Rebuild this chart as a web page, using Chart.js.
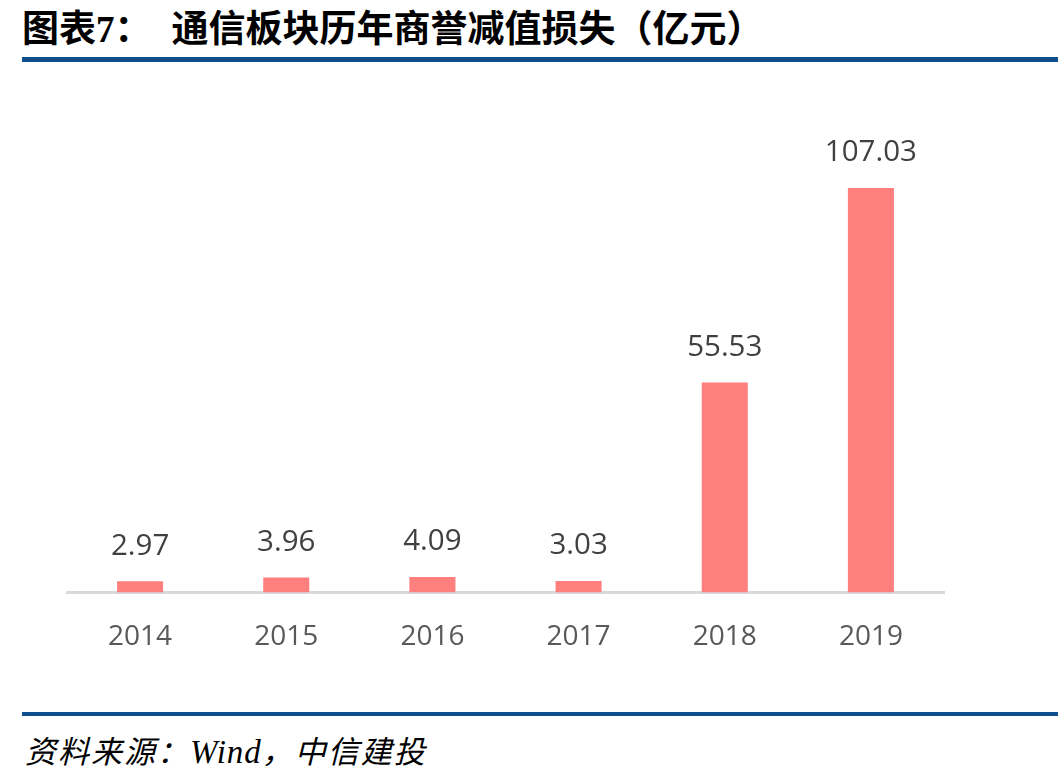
<!DOCTYPE html>
<html>
<head>
<meta charset="utf-8">
<script src="https://cdn.jsdelivr.net/npm/chart.js@4.4.1/dist/chart.umd.min.js"></script>
<style>
  html, body { margin: 0; padding: 0; background: #fff; }
  body { width: 1058px; height: 782px; position: relative; overflow: hidden; }
  #title { position: absolute; left: 22px; top: 2px; font-family: "Noto Sans CJK SC"; font-weight: bold; font-size: 37px; color: #000; white-space: nowrap; line-height: 48px; }
  #title .num { font-family: "Liberation Serif"; }
  #title .gap { display: inline-block; width: 20px; }
  .rule { position: absolute; left: 22px; right: 0; background: #0e4f8c; }
  #rule1 { top: 57px; height: 5px; }
  #rule2 { top: 712px; height: 4px; }
  #source { position: absolute; left: 25px; top: 729px; font-family: "Noto Sans CJK SC"; font-style: italic; font-size: 31px; letter-spacing: 2px; color: #000; line-height: 42px; white-space: nowrap; }
  #source .en { font-family: "Liberation Serif"; font-size: 33px; letter-spacing: 1px; }
  #wrap { position: absolute; left: 0; top: 70px; width: 1058px; height: 640px; }
</style>
</head>
<body>
<div id="title">图表<span class="num">7</span>：<span class="gap"></span>通信板块历年商誉减值损失（亿元）</div>
<div class="rule" id="rule1"></div>
<div id="wrap"><canvas id="goodwillChart"></canvas></div>
<div class="rule" id="rule2"></div>
<div id="source">资料来源：<span class="en">Wind</span>，中信建投</div>
<script>
// data
const years = ["2014", "2015", "2016", "2017", "2018", "2019"];
const impairment = [2.97, 3.96, 4.09, 3.03, 55.53, 107.03];

// value labels above each bar
const barLabels = {
  id: 'barLabels',
  afterDatasetsDraw(chart) {
    const ctx = chart.ctx;
    const meta = chart.getDatasetMeta(0);
    ctx.save();
    ctx.font = '29.5px "Open Sans"';
    ctx.fillStyle = '#404040';
    ctx.textAlign = 'center';
    ctx.textBaseline = 'middle';
    meta.data.forEach(function(bar, i) {
      ctx.fillText(impairment[i].toFixed(2), bar.x, bar.y - 35);
    });
    ctx.restore();
  }
};

const canvas = document.getElementById("goodwillChart");
let barChart = new Chart(canvas, {
  type: "bar",
  data: {
    labels: years,
    datasets: [{
      data: impairment,
      backgroundColor: '#ff7f7f',
      borderWidth: 0,
      categoryPercentage: 1,
      barPercentage: 0.315
    }]
  },
  options: {
    responsive: true,
    maintainAspectRatio: false,
    animation: false,
    layout: { padding: { left: 67, right: 114, top: 69, bottom: 28 } },
    plugins: {
      legend: { display: false },
      tooltip: { enabled: false }
    },
    scales: {
      x: {
        grid: { display: false, drawTicks: false },
        border: { display: true, color: '#d9d9d9', width: 3 },
        ticks: {
          color: '#595959',
          font: { family: 'Open Sans', size: 28 },
          padding: 28
        }
      },
      y: {
        display: false,
        min: 0,
        max: 120
      }
    }
  },
  plugins: [barLabels]
});
</script>
</body>
</html>
